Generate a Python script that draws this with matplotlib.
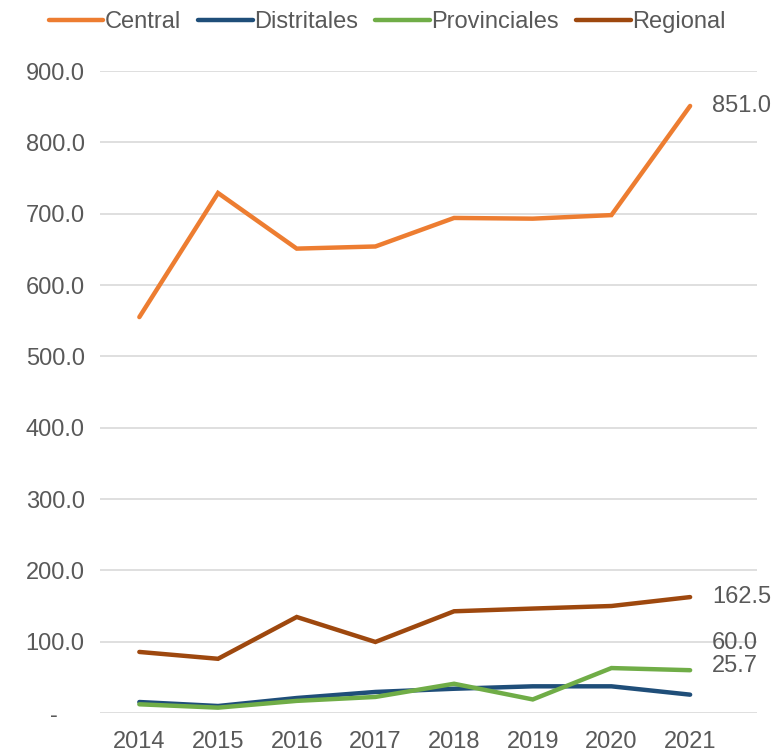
import matplotlib.pyplot as plt
from matplotlib.ticker import FuncFormatter

plt.rcParams['font.family'] = ['Liberation Sans', 'DejaVu Sans']

# Data
years = [2014, 2015, 2016, 2017, 2018, 2019, 2020, 2021]
central = [555, 729, 651, 654, 694, 693, 698, 851.0]
distritales = [15.4, 9.8, 21, 29.5, 34, 37.4, 37.4, 25.7]
provinciales = [12.2, 7.5, 17, 22.5, 41, 19, 63, 60.0]
regional = [85.6, 76, 134.6, 99.6, 142.6, 146.4, 150, 162.5]

series = [
    ("Central", central, "#ED7D31"),
    ("Distritales", distritales, "#1F4E79"),
    ("Provinciales", provinciales, "#70AD47"),
    ("Regional", regional, "#9E480E"),
]
# end label shifts in pixels (to keep the small ones apart)
label_shift = {"Central": 0, "Distritales": 29, "Provinciales": 27, "Regional": 0}

text_color = "#595959"
fs = 17

fig = plt.figure(figsize=(7.74, 7.52), dpi=100)
ax = fig.add_axes([100 / 774, 39 / 752, 657 / 774, 642 / 752])

for name, vals, color in series:
    ax.plot(years, vals, color=color, lw=3.2, label=name, solid_capstyle='round',
            solid_joinstyle='miter')
    ax.annotate(f"{vals[-1]:.1f}", xy=(years[-1], vals[-1]),
                xytext=(22, label_shift[name]), textcoords='offset pixels',
                ha='left', va='center', fontsize=fs, color=text_color)

ax.set_xlim(2013.5, 2021.85)
ax.set_ylim(0, 900)
ax.set_yticks(range(0, 901, 100))
ax.yaxis.set_major_formatter(FuncFormatter(lambda v, p: "-    " if v == 0 else f"{v:.1f}"))
ax.set_xticks(years)

ax.grid(axis='y', color='#D9D9D9', lw=1.2)
ax.set_axisbelow(True)
for s in ax.spines.values():
    s.set_visible(False)
ax.tick_params(length=0, labelsize=fs, labelcolor=text_color)
ax.tick_params(axis='y', pad=11)
ax.tick_params(axis='x', pad=13)

fig.legend(loc='upper center', bbox_to_anchor=(0.5, 1.013), ncol=4, frameon=False,
           fontsize=fs, labelcolor=text_color, handlelength=2.3, handletextpad=0.05,
           columnspacing=0.75)

fig.savefig("out.png", dpi=100)
